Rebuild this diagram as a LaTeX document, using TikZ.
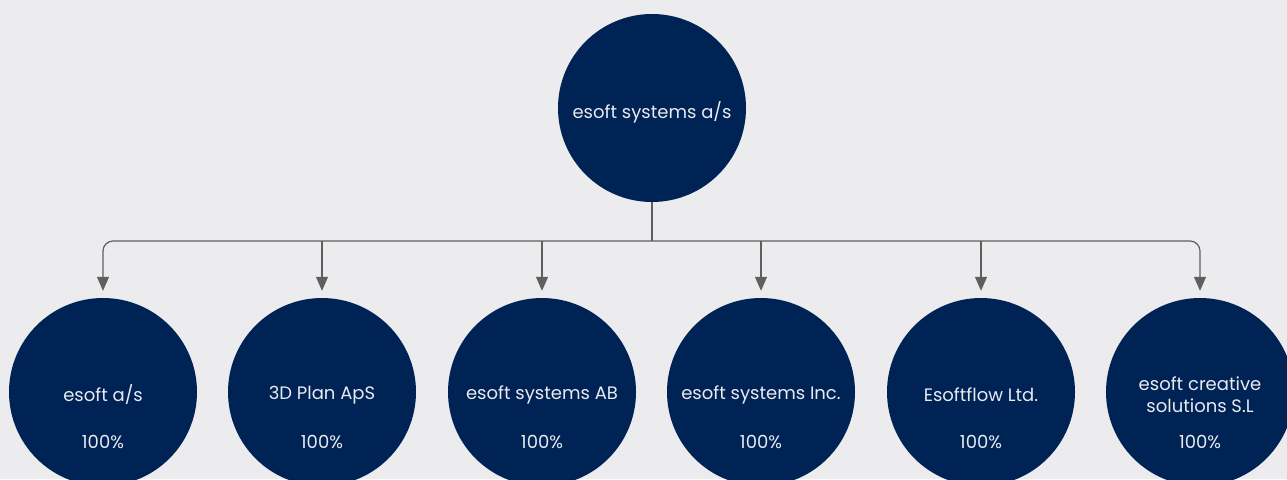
\documentclass[tikz,border=0pt]{standalone}
\usepackage{fontspec}
\setmainfont{Poppins}
\usetikzlibrary{arrows.meta,calc}
\definecolor{bg}{RGB}{236,236,238}
\definecolor{navy}{RGB}{0,35,85}
\definecolor{conn}{RGB}{95,95,95}
\definecolor{txtc}{RGB}{232,234,240}
\tikzset{
  circ/.style={circle, fill=navy, draw=none, minimum size=188pt, inner sep=0pt},
  lbl/.style={text=txtc, font=\fontsize{18}{22}\selectfont, align=center, inner sep=0pt},
  conline/.style={draw=conn, line width=1.2pt},
  arr/.style={conline, -{Triangle[width=12pt,length=14pt]}, shorten >=7pt},
}
\begin{document}
\begin{tikzpicture}[x=1pt,y=-1pt]
\fill[bg] (0,0) rectangle (1287,479);
\useasboundingbox (0,0) rectangle (1287,479);
\begin{scope}
\clip (0,0) rectangle (1287,479);
\node[circ] (top) at (652,108) {};
\node[lbl] (topt) at ([yshift=-4pt]top.center) {esoft systems a/s};
\foreach \i/\x in {1/103,2/322,3/542,4/761,5/981,6/1200}{
  \node[circ] (c\i) at (\x,392) {};
}
\node[lbl] (c1n) at ([yshift=-3pt]c1.center) {esoft a/s};
\node[lbl] (c2n) at ([yshift=-3pt]c2.center) {3D Plan ApS};
\node[lbl] (c3n) at ([yshift=-3pt]c3.center) {esoft systems AB};
\node[lbl] (c4n) at ([yshift=-3pt]c4.center) {esoft systems Inc.};
\node[lbl] (c5n) at ([yshift=-3pt]c5.center) {Esoftflow Ltd.};
\node[lbl] (c6n) at ([yshift=-3pt]c6.center) {esoft creative\\solutions S.L};
\foreach \i in {1,...,6}{
  \node[lbl] (c\i p) at ([yshift=-50pt]c\i.center) {100\%};
}
\coordinate (j) at (652,241);
\draw[conline] (top.south) -- (j);
\draw[arr, rounded corners=10pt] (j) -| (c1.north);
\draw[arr, rounded corners=10pt] (j) -| (c6.north);
\foreach \i in {2,3,4,5}{
  \draw[arr] (c\i.north |- j) -- (c\i.north);
}
\end{scope}
\end{tikzpicture}
\end{document}
